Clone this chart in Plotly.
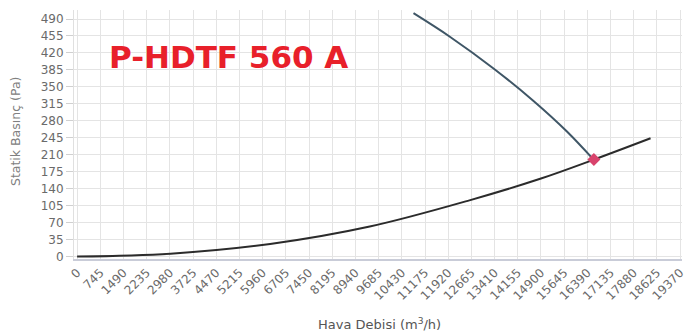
import plotly.graph_objects as go

# Fan curve (Hava Debisi m3/h, Statik Basinc Pa)
fan_x = [10805, 11985, 13376, 14661, 15734, 16589]
fan_y = [502, 453, 388, 321, 258, 200]

# System curve
sys_x = [0, 3000, 6200, 9400, 12600, 14900, 16600, 18420]
sys_y = [0, 6, 26, 62, 116, 161, 200, 244]

# Operating point
op_x = [16600]
op_y = [200]

x_ticks = [0, 745, 1490, 2235, 2980, 3725, 4470, 5215, 5960, 6705, 7450, 8195,
           8940, 9685, 10430, 11175, 11920, 12665, 13410, 14155, 14900, 15645,
           16390, 17135, 17880, 18625, 19370]
y_ticks = [0, 35, 70, 105, 140, 175, 210, 245, 280, 315, 350, 385, 420, 455, 490]

title_text = "P-HDTF 560 A"
x_title = "Hava Debisi (m<sup>3</sup>/h)"
y_title = "Statik Basınç (Pa)"

fig = go.Figure()
fig.add_trace(go.Scatter(x=sys_x, y=sys_y, mode="lines",
                         line=dict(color="#2b2b2b", width=2, shape="spline", smoothing=1),
                         showlegend=False, hoverinfo="skip"))
fig.add_trace(go.Scatter(x=fan_x, y=fan_y, mode="lines",
                         line=dict(color="#3f5666", width=2, shape="spline", smoothing=1),
                         showlegend=False, hoverinfo="skip"))
fig.add_trace(go.Scatter(x=op_x, y=op_y, mode="markers",
                         marker=dict(color="#d8436c", size=10, symbol="diamond"),
                         showlegend=False, hoverinfo="skip"))

fig.add_annotation(text="<b>" + title_text + "</b>", xref="paper", yref="paper",
                   x=0.054, y=0.813, xanchor="left", yanchor="middle",
                   showarrow=False,
                   font=dict(family="DejaVu Sans", size=31, color="#e8202a"))
fig.add_annotation(text=x_title, xref="paper", yref="paper",
                   x=0.503, y=-0.261, xanchor="center", yanchor="middle",
                   showarrow=False,
                   font=dict(family="DejaVu Sans", size=13, color="#555555"))
fig.add_annotation(text=y_title, xref="paper", yref="paper",
                   x=-0.097, y=0.51, xanchor="center", yanchor="middle",
                   textangle=-90, showarrow=False,
                   font=dict(family="DejaVu Sans", size=12.5, color="#808080"))

fig.update_layout(
    width=695, height=336,
    margin=dict(l=74, r=13, t=10, b=77),
    paper_bgcolor="white", plot_bgcolor="white",
    font=dict(family="DejaVu Sans", color="#666666", size=11),
    hovermode=False,
)
fig.update_xaxes(range=[-100, 19430], tickmode="array", tickvals=x_ticks,
                 ticktext=[str(v) for v in x_ticks], tickangle=-45,
                 automargin=False,
                 showgrid=True, gridcolor="#e4e4e4", gridwidth=1,
                 showline=True, linecolor="#c9ccd8", linewidth=2,
                 zeroline=False, ticks="",
                 tickfont=dict(size=12, color="#6a6a6a"))
fig.update_yaxes(range=[-5, 508.6], tickmode="array", tickvals=y_ticks,
                 automargin=False,
                 showgrid=True, gridcolor="#e4e4e4", gridwidth=1,
                 showline=True, linecolor="#e0e0e0", linewidth=1,
                 zeroline=False, ticks="outside", ticklen=7, tickcolor="#d0d0d0",
                 tickfont=dict(size=12, color="#6a6a6a"))

fig.write_html("out.html", config={"displayModeBar": False},
               post_script="document.body.style.margin='0';document.body.style.padding='0';")
